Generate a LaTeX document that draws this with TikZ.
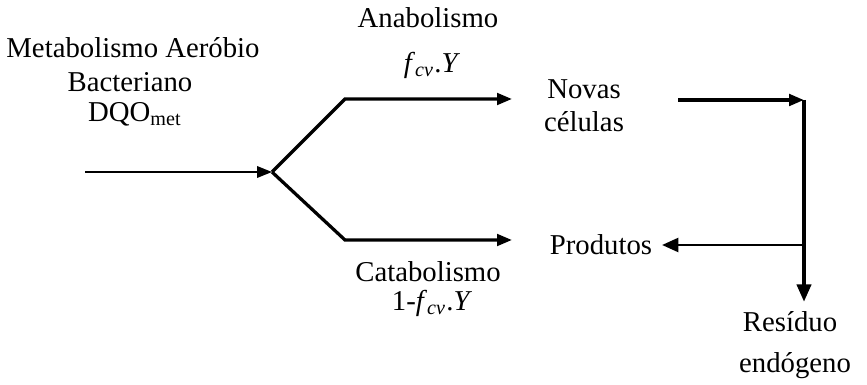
\documentclass[tikz,border=0pt]{standalone}
\usepackage{fontspec}
\setmainfont{Liberation Serif}
\usetikzlibrary{arrows.meta}

\begin{document}
\begin{tikzpicture}[x=0.4pt, y=-0.4pt,
    >={Triangle[length=6pt, width=4.6pt]},
    lbl/.style={font=\fontsize{11.5}{13}\selectfont, inner sep=0pt}]
\useasboundingbox (0,0) rectangle (867,385);

% Input label
\node[lbl] (met1) at (133,48) {Metabolismo Aeróbio};
\node[lbl] (met2) at (130,82) {Bacteriano};
\node[lbl] (met3) at (135,114) {DQO\textsubscript{met}};

% Branch labels
\node[lbl] (ana) at (428,18) {Anabolismo};
\node[lbl] (anay) at (432,65) {\textit{f}\textsubscript{\textit{cv}}.\textit{Y}};
\node[lbl] (cat) at (428,272) {Catabolismo};
\node[lbl] (caty) at (432,303) {1-\textit{f}\textsubscript{\textit{cv}}.\textit{Y}};

% Products
\node[lbl] (novas) at (584,89) {Novas};
\node[lbl] (cel) at (584,122) {células};
\node[lbl] (prod) at (601,245) {Produtos};
\node[lbl] (res1) at (790,322) {Resíduo};
\node[lbl] (res2) at (795,366) {endógeno};

% Path points
\coordinate (in) at (85,172);
\coordinate (j) at (272,172);
\coordinate (ub) at (345,99);
\coordinate (ue) at (512,99);
\coordinate (lb) at (345,240);
\coordinate (le) at (512,240);
\coordinate (ns) at (678,100);
\coordinate (corner) at (804,100);
\coordinate (tee) at (804,245);
\coordinate (down) at (804,302);
\coordinate (pe) at (662,245);

% Input arrow
\draw[->, line width=0.8pt] (in) -- (j);

% Anabolism / catabolism branches
\draw[->, line width=1.3pt] (j) -- (ub) -- (ue);
\draw[->, line width=1.3pt] (j) -- (lb) -- (le);

% New cells -> endogenous residue
\draw[->, line width=1.4pt] (ns) -- (corner);
\draw[-{Triangle[length=7pt, width=5.5pt]}, line width=1.7pt] (corner) -- (down);
\draw[-{Triangle[length=6.5pt, width=5.5pt]}, line width=1.1pt] (tee) -- (pe);

\end{tikzpicture}
\end{document}
